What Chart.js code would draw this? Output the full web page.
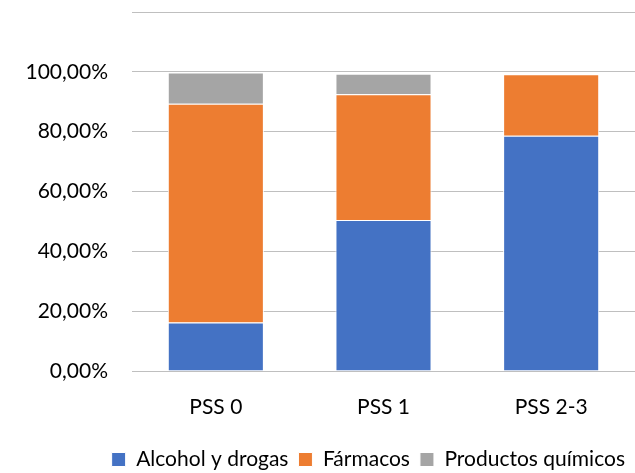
<!DOCTYPE html>
<html>
<head>
<meta charset="utf-8">
<script src="https://cdn.jsdelivr.net/npm/chart.js@4.4.0/dist/chart.umd.min.js"></script>
<style>
  html, body { margin: 0; padding: 0; background: #ffffff; }
  #wrap { width: 635px; height: 473px; position: relative; }
</style>
</head>
<body>
<div id="wrap"><canvas id="c" width="635" height="473"></canvas></div>
<script>
const categories = ['PSS 0', 'PSS 1', 'PSS 2-3'];
const alcoholDrogas = [0.162, 0.505, 0.786];
const farmacos = [0.731, 0.420, 0.206];
const productosQuimicos = [0.105, 0.069, 0.0];
const seriesNames = ['Alcohol y drogas', 'Fármacos', 'Productos químicos'];
const yTicks = [0, 0.2, 0.4, 0.6, 0.8, 1.0, 1.2];

const FONT = 'Lato, "Open Sans", sans-serif';

new Chart(document.getElementById('c'), {
  type: 'bar',
  data: {
    labels: categories,
    datasets: [
      { label: seriesNames[0], data: alcoholDrogas, backgroundColor: '#4472C4', borderColor: '#ffffff', borderWidth: 1 },
      { label: seriesNames[1], data: farmacos, backgroundColor: '#ED7D31', borderColor: '#ffffff', borderWidth: 1 },
      { label: seriesNames[2], data: productosQuimicos, backgroundColor: '#A5A5A5', borderColor: '#ffffff', borderWidth: 1 }
    ]
  },
  options: {
    responsive: false,
    animation: false,
    devicePixelRatio: 1,
    layout: { padding: { top: 12, right: 0, left: 0, bottom: -7 } },
    datasets: { bar: { categoryPercentage: 1.0, barPercentage: 0.573 } },
    plugins: {
      tooltip: { enabled: false },
      legend: {
        position: 'bottom',
        align: 'end',
        labels: {
          color: '#000000',
          font: { family: FONT, size: 21 },
          boxWidth: 14,
          boxHeight: 14,
          padding: 10,
          useBorderRadius: false
        }
      }
    },
    scales: {
      x: {
        stacked: true,
        grid: { display: false, drawTicks: false },
        border: { display: true, color: '#bfbfbf', width: 1 },
        ticks: { color: '#000000', font: { family: FONT, size: 21 }, padding: 24 },
        afterFit: (s) => { s.height = 68; }
      },
      y: {
        stacked: true,
        min: 0,
        max: 1.2,
        afterBuildTicks: (s) => { s.ticks = yTicks.map(v => ({ value: v })); },
        grid: { color: '#bfbfbf', lineWidth: 1, drawTicks: false },
        border: { display: false },
        ticks: {
          color: '#000000',
          font: { family: FONT, size: 21 },
          padding: 24,
          callback: (v) => v > 1.0001 ? '' : (v * 100).toFixed(2).replace('.', ',') + '%'
        },
        afterFit: (s) => { s.width = 132; s.paddingTop = 0; }
      }
    }
  }
});
</script>
</body>
</html>
